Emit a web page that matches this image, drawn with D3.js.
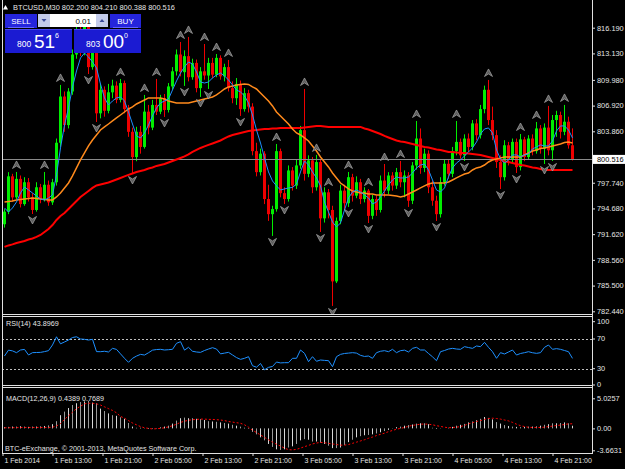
<!DOCTYPE html>
<html><head><meta charset="utf-8">
<script src="https://cdn.jsdelivr.net/npm/d3@7"></script>
<style>html,body{margin:0;padding:0;background:#000;overflow:hidden}</style>
</head><body>
<script>
// ---------- DATA ----------
const opens=[792.8,794.3,798.5,796.0,798.2,795.2,797.8,796.0,794.5,797.2,
795.8,797.5,795.4,797.8,802.5,808.0,804.6,808.6,813.0,815.8,
813.5,816.5,811.5,814.8,806.0,808.8,806.3,808.5,809.3,807.6,
809.6,806.5,803.8,800.8,803.8,802.0,806.2,804.3,807.0,806.2,
807.8,806.4,809.2,811.0,813.0,810.9,812.8,810.3,812.0,809.0,
811.0,810.5,812.0,810.6,812.6,810.4,811.5,809.0,807.8,809.5,
806.5,808.4,806.8,801.5,799.0,801.2,795.8,794.0,794.6,801.5,
796.5,795.8,799.2,797.4,799.8,804.0,798.8,800.4,797.2,800.2,
793.5,796.6,794.5,786.0,793.2,796.8,795.3,798.4,796.2,797.8,
795.8,796.8,793.8,795.8,794.5,798.0,796.8,798.6,797.4,799.0,
797.8,798.6,795.6,799.8,803.0,799.5,801.2,797.2,795.6,794.0,
797.8,800.0,798.8,801.5,802.6,801.0,803.0,802.0,804.8,803.4,
806.5,808.8,805.2,803.4,800.2,798.4,802.2,800.5,802.6,799.6,
802.9,800.8,803.0,801.5,804.2,801.8,804.3,801.6,805.2,805.8,
803.8,805.0,802.2];
const highs=[794.6,799.0,798.8,799.02,798.6,798.4,798.3,796.5,797.8,797.6,
799.02,798.0,798.2,803.0,809.38,808.6,809.0,813.6,816.8,816.5,
817.2,817.0,815.6,815.2,809.5,809.2,809.5,810.0,809.8,810.09,
809.9,807.0,804.3,804.4,804.5,808.19,807.0,807.6,810.09,808.2,
808.3,809.6,811.5,813.6,814.49,813.5,815.09,812.5,812.4,811.5,
814.25,812.6,812.6,813.06,812.9,811.9,812.35,809.8,810.2,809.9,
809.0,808.8,807.2,802.5,801.8,801.5,797.5,795.0,802.35,801.8,
797.2,799.8,799.6,800.5,804.5,808.9,801.0,800.8,801.05,800.5,
797.2,796.99,795.0,793.6,797.5,797.5,799.02,798.8,798.5,798.2,
797.2,796.99,796.3,796.2,798.6,799.97,799.0,799.0,799.5,800.33,
799.2,799.0,800.2,805.09,804.2,801.8,801.6,798.0,796.2,798.4,
800.5,800.5,802.0,805.09,803.0,803.5,803.6,805.2,805.3,807.0,
809.3,809.97,806.8,804.0,801.0,802.8,802.6,803.0,803.0,803.54,
803.2,803.4,803.5,804.97,804.6,804.8,806.88,805.8,806.3,806.2,
807.0,805.6,804.21];
const lows=[792.4,794.0,795.5,795.8,794.8,795.0,795.5,794.02,794.3,795.3,
795.5,795.0,795.1,797.4,802.0,803.8,804.2,808.2,812.5,812.8,
812.9,810.68,811.2,804.97,805.4,805.6,806.0,807.8,807.2,807.3,
806.0,803.2,798.78,800.3,801.2,801.8,803.5,804.0,805.8,805.9,
805.57,806.1,808.8,810.5,810.4,809.26,809.8,810.0,808.5,807.95,
810.0,808.9,810.2,810.3,810.0,809.8,808.6,807.2,807.0,805.69,
806.2,806.1,801.0,798.5,798.6,795.2,793.2,791.41,794.3,796.0,
795.21,795.5,796.8,797.0,799.4,798.0,798.4,796.5,796.8,791.88,
793.0,793.5,783.08,785.8,792.8,794.5,794.86,795.5,795.9,795.2,
795.4,792.95,793.4,793.8,794.2,796.0,796.4,796.8,797.0,797.2,
796.0,794.86,795.2,799.3,798.8,799.0,796.5,795.0,793.19,793.6,
797.4,798.2,798.4,801.0,800.6,800.33,801.4,801.6,802.8,803.0,
806.0,804.6,802.8,799.5,796.99,798.0,799.8,800.1,798.9,799.2,
800.3,800.5,801.0,801.2,801.2,799.97,801.0,800.33,803.2,803.0,
803.4,801.8,800.388];
const closes=[794.3,798.5,796.0,798.2,795.2,797.8,796.0,794.5,797.2,795.8,
797.5,795.4,797.8,802.5,808.0,804.6,808.6,813.0,815.8,813.5,
816.5,811.5,814.8,806.0,808.8,806.3,808.5,809.3,807.6,809.6,
806.5,803.8,800.8,803.8,802.0,806.2,804.3,807.0,806.2,807.8,
806.4,809.2,811.0,813.0,810.9,812.8,810.3,812.0,809.0,811.0,
810.5,812.0,810.6,812.6,810.4,811.5,809.0,807.8,809.5,806.5,
808.4,806.8,801.5,799.0,801.2,795.8,794.0,794.6,801.5,796.5,
795.8,799.2,797.4,799.8,804.0,798.8,800.4,797.2,800.2,793.5,
796.6,794.5,786.0,793.2,796.8,795.3,798.4,796.2,797.8,795.8,
796.8,793.8,795.8,794.5,798.0,796.8,798.6,797.4,799.0,797.8,
798.6,795.6,799.8,803.0,799.5,801.2,797.2,795.6,794.0,797.8,
800.0,798.8,801.5,802.6,801.0,803.0,802.0,804.8,803.4,806.5,
808.8,805.2,803.4,800.2,798.4,802.2,800.5,802.6,799.6,802.9,
800.8,803.0,801.5,804.2,801.8,804.3,801.6,805.2,805.8,803.8,
805.0,802.2,800.516];
const maFast=[794.74,794.26,794.74,795.45,796.52,797.24,796.88,796.52,796.17,795.81,
795.69,795.93,796.29,798.67,801.88,804.61,806.64,809.14,811.04,812.59,
813.18,812.71,812.11,811.40,809.49,807.83,806.99,807.47,807.83,807.95,
807.47,806.16,804.73,803.31,803.07,803.66,804.61,805.69,806.64,807.23,
807.47,807.71,808.78,809.85,810.80,811.52,812.11,811.87,810.92,809.73,
809.61,809.73,810.21,810.56,810.80,810.45,809.97,809.38,808.78,808.54,
808.07,807.23,805.80,804.02,802.47,800.69,799.02,797.95,797.36,796.88,
797.00,797.12,797.18,797.59,799.02,800.33,799.85,799.02,798.31,797.36,
795.45,794.26,793.07,792.48,792.95,794.50,795.93,796.64,796.88,796.64,
796.29,795.93,795.21,795.45,796.05,796.76,797.48,798.07,798.43,798.31,
798.31,798.43,798.90,799.50,799.85,799.97,799.26,798.07,796.88,796.64,
797.12,798.43,799.50,800.09,800.45,800.93,801.40,801.88,802.59,803.54,
804.14,804.26,803.66,801.64,800.57,800.09,800.45,801.05,801.05,800.81,
801.05,801.17,801.76,802.00,802.24,802.12,802.12,802.71,803.90,804.50,
804.50,804.02,803.07];
const maMid=[795.45,795.51,795.57,795.69,795.75,795.81,795.87,795.93,795.87,795.81,
795.75,795.69,795.69,796.05,796.52,797.12,797.71,798.55,799.50,800.45,
801.28,802.12,802.83,803.42,804.02,804.38,804.73,805.09,805.45,805.80,
806.16,806.52,806.76,807.11,807.35,807.59,807.83,807.83,807.83,807.83,
807.71,807.47,807.35,807.23,807.23,807.23,807.23,807.35,807.47,807.59,
807.71,807.83,807.95,808.19,808.54,808.90,809.14,809.26,809.38,809.44,
809.49,809.44,809.14,808.90,808.42,807.95,807.47,806.88,806.16,805.69,
805.21,804.73,804.14,803.66,803.42,803.07,802.71,802.12,801.52,800.81,
800.21,799.62,798.90,798.31,797.71,797.36,797.00,796.76,796.64,796.52,
796.52,796.40,796.40,796.29,796.29,796.29,796.29,796.23,796.17,796.05,
796.17,796.40,796.64,796.88,797.12,797.36,797.59,797.71,797.71,797.71,
797.71,797.83,798.07,798.31,798.55,798.78,798.90,799.26,799.50,799.62,
799.85,800.21,800.45,800.57,800.69,800.81,800.81,800.81,800.81,800.81,
801.05,801.28,801.52,801.64,801.82,801.88,801.99,802.12,802.24,802.35,
802.53,802.59,802.47];
const maSlow=[790.10,790.28,790.40,790.57,790.69,790.81,790.99,791.11,791.29,791.52,
791.88,792.24,792.71,793.31,793.79,794.14,794.62,795.09,795.57,796.05,
796.40,796.76,797.12,797.41,797.53,797.65,797.77,797.95,798.13,798.31,
798.49,798.67,798.84,799.02,799.14,799.26,799.44,799.56,799.74,799.85,
799.97,800.15,800.33,800.51,800.69,800.87,801.11,801.40,801.64,801.88,
802.06,802.24,802.41,802.59,802.77,803.01,803.25,803.42,803.54,803.66,
803.78,803.90,803.96,804.02,804.08,804.14,804.14,804.20,804.20,804.26,
804.26,804.26,804.26,804.26,804.26,804.32,804.38,804.44,804.50,804.50,
804.44,804.38,804.38,804.38,804.38,804.38,804.38,804.38,804.38,804.38,
804.20,804.08,803.90,803.72,803.54,803.31,803.13,802.95,802.77,802.65,
802.59,802.47,802.35,802.24,802.12,802.00,801.94,801.82,801.70,801.64,
801.52,801.40,801.40,801.34,801.28,801.28,801.22,801.16,801.10,801.05,
800.93,800.81,800.69,800.57,800.45,800.27,800.21,800.09,799.97,799.85,
799.79,799.68,799.56,799.50,799.38,799.26,799.26,799.26,799.26,799.26,
799.26,799.26,799.26];
const fractalUp=[3,10,14,29,35,38,44,46,50,53,56,68,75,78,81,86,91,95,99,103,113,121,129,133,136,140];
const fractalDown=[7,21,23,32,40,45,49,51,59,67,70,79,82,86,91,101,108,115,124,128,135,137];
const rsi=[47.1,55,54,51.6,55.2,56,48.5,51.6,51.8,52,
53,54.3,62,73,63.5,66,68.6,72,73,70,
69.6,68.6,69.6,53,52.9,53.5,52.5,57.4,56,50,
44,38.6,44,47,49.3,48.4,51.5,55,55.8,56.1,
55.2,55.6,56.1,64.2,66.4,55,58.8,53.5,52.5,52,
54.5,56.5,58.3,56.5,50,51,52,48.5,45,42.6,
44,46.2,34,32,37,28.5,31.8,33,39,37.8,
38.1,38.1,44,44,55.2,50.7,39.5,46.2,40,41.7,
41.2,40.8,32.7,46.2,49.3,50.5,51,51.6,51,48,
46.5,47.1,44,51.6,53.5,54.3,52.9,56.1,51.6,54.3,
55,52.5,57.4,58.8,55.2,55.2,50.5,46,40.8,52.9,
54.5,56.5,57.4,56.5,56.1,59.7,58.5,57.4,60.6,59.7,
65.5,58.8,52.9,44,51.6,49.8,52.5,55.2,48.4,50.5,
51.6,52.9,51.5,50.7,51.6,58.8,61.9,56.1,57,56.1,
54.5,52.9,43.9];
const macdHist=[0.2,0.25,0.3,0.3,0.35,0.3,0.25,0.3,0.3,0.35,
0.4,0.5,0.7,1.2,2.2,2.8,3.4,3.9,4.2,4.4,
4.5,4.6,4.3,4.2,3.3,2.9,2.5,2.2,2.1,1.85,
1.6,0.9,0.3,0.1,0.1,-0.05,-0.1,-0.1,0.05,0.2,
0.3,0.45,0.8,1.3,1.7,1.8,1.7,1.7,1.6,1.55,
1.4,1.2,1.15,1.1,1.0,0.9,0.8,0.6,0.45,0.3,
0.1,-0.1,-0.55,-1.0,-1.5,-2.0,-2.6,-3.1,-3.5,-3.6,
-3.5,-3.2,-3.0,-2.6,-2.0,-1.8,-1.9,-2.2,-2.2,-2.4,
-2.6,-2.9,-3.3,-3.3,-3.2,-2.8,-2.3,-1.9,-1.5,-1.3,
-1.15,-1.1,-1.0,-0.85,-0.65,-0.45,-0.25,0.05,0.2,0.3,
0.45,0.55,0.65,0.8,0.85,0.85,0.7,0.1,-0.1,-0.05,
0,0.1,0.25,0.45,0.6,0.75,1.0,1.15,1.35,1.6,
1.9,1.75,1.5,1.05,0.8,0.55,0.4,0.3,0.25,0.2,
0.25,0.3,0.3,0.35,0.45,0.6,0.7,0.85,0.85,0.9,
1.0,0.85,0.44];
const macdSignal=[0.1,0.1,0.12,0.12,0.15,0.15,0.15,0.15,0.15,0.15,
0.15,0.15,0.2,0.4,0.8,1.5,2.1,2.7,3.3,3.7,
4.1,4.2,4.2,4.1,3.9,3.6,3.3,3.0,2.6,2.0,
1.7,1.3,0.9,0.6,0.3,0.1,0,-0.1,-0.05,0,
0.1,0.25,0.45,0.7,1.0,1.2,1.35,1.45,1.5,1.55,
1.55,1.5,1.5,1.45,1.4,1.3,1.15,1.05,0.95,0.85,
0.6,0.2,-0.3,-0.7,-1.1,-1.5,-1.9,-2.3,-2.65,-2.95,
-3.3,-3.55,-3.6,-3.5,-3.3,-3.05,-2.85,-2.6,-2.45,-2.35,
-2.4,-2.5,-2.6,-2.7,-2.8,-2.8,-2.7,-2.5,-2.3,-2.1,
-1.9,-1.65,-1.45,-1.2,-1.0,-0.8,-0.55,-0.35,-0.15,0,
0.15,0.35,0.5,0.6,0.7,0.72,0.7,0.6,0.45,0.33,
0.2,0.1,0.15,0.2,0.3,0.5,0.75,0.95,1.15,1.3,
1.5,1.65,1.7,1.65,1.55,1.4,1.25,1.0,0.7,0.45,
0.3,0.18,0.15,0.15,0.15,0.2,0.3,0.38,0.48,0.55,
0.65,0.75,0.77];
const priceTicks=[816.190,813.130,809.980,806.920,803.860,797.740,794.680,791.620,788.560,785.500,782.440];
const rsiTicks=[100,70,30,0];
const rsiLevels=[70,30];
const macdTicks=[5.0257,0,-3.6631];
const macdTickLabels=["5.0257","0.00","-3.6631"];
const timePos=[-0.5,12,24.5,37,49.5,62,74.5,87,99.5,112,124.5,137];
const timeLabels=["1 Feb 2014","1 Feb 13:00","1 Feb 21:00","2 Feb 05:00","2 Feb 13:00","2 Feb 21:00","3 Feb 05:00","3 Feb 13:00","3 Feb 21:00","4 Feb 05:00","4 Feb 13:00","4 Feb 21:00"];
const header="BTCUSD,M30  802.200 804.210 800.388 800.516";
const lastPrice=800.516;
const rsiLabel="RSI(14) 43.8969";
const macdLabel="MACD(12,26,9) 0.4389 0.7689";
const copyright="BTC-eExchange, © 2001-2013, MetaQuotes Software Corp.";

// ---------- LAYOUT ----------
const W=625,H=469, L=2, R=592;
const MAIN=[0,314], RP=[317,385], MP=[388,453];
const FONT='"Liberation Sans", Arial, sans-serif';
const TXT='#e6e6e6';
const n=closes.length;
const idx=d3.range(n);

const svg=d3.select('body').append('svg').attr('width',W).attr('height',H)
  .style('display','block').style('background','#000');
svg.append('rect').attr('width',W).attr('height',H).attr('fill','#000');

const x=d3.scaleLinear().domain([0,n-1]).range([4,572]);
const yP=d3.scaleLinear().domain([782.44,816.19]).range([311.3,27.7]);
const yR=d3.scaleLinear().domain([30,70]).range([368.7,339]);
const yM=d3.scaleLinear().domain([-3.6631,5.0257]).range([450.3,398.3]);

const defs=svg.append('defs');
function clip(id,y0,y1){defs.append('clipPath').attr('id',id).append('rect').attr('x',L+1).attr('y',y0).attr('width',R-L-1).attr('height',y1-y0);}
clip('cm',MAIN[0],MAIN[1]); clip('cr',RP[0],RP[1]); clip('cd',MP[0],MP[1]);

// ---------- MAIN PANEL ----------
const main=svg.append('g').attr('clip-path','url(#cm)');
const col=i=>closes[i]>=opens[i]?'#00ee00':'#ee0000';
main.append('g').selectAll('line').data(idx).join('line')
  .attr('x1',i=>x(i)+0.5).attr('x2',i=>x(i)+0.5)
  .attr('y1',i=>yP(highs[i])).attr('y2',i=>yP(lows[i]))
  .attr('stroke',col).attr('stroke-width',1);
main.append('g').selectAll('rect').data(idx).join('rect')
  .attr('x',i=>x(i)-1).attr('width',3)
  .attr('y',i=>yP(Math.max(opens[i],closes[i])))
  .attr('height',i=>Math.max(1,Math.abs(yP(opens[i])-yP(closes[i]))))
  .attr('fill',col);

// current price line
main.append('line').attr('x1',L).attr('x2',R).attr('y1',Math.round(yP(lastPrice))+0.5).attr('y2',Math.round(yP(lastPrice))+0.5)
  .attr('stroke','#8a8a8a').attr('stroke-width',1);

const lineP=d3.line().x((d,i)=>x(i)+0.5).y(d=>yP(d));
main.append('path').datum(maSlow).attr('d',lineP).attr('fill','none').attr('stroke','#ff0000').attr('stroke-width',2);
main.append('path').datum(maMid).attr('d',lineP).attr('fill','none').attr('stroke','#ff8a1c').attr('stroke-width',1.5);
main.append('path').datum(maFast).attr('d',lineP).attr('fill','none').attr('stroke','#1e90ff').attr('stroke-width',1);

// fractals
const upArrow='M0,-4L4,3.5L0,1L-4,3.5Z';
const dnArrow='M0,4L4,-3.5L0,-1L-4,-3.5Z';
main.append('g').selectAll('path').data(fractalUp).join('path')
  .attr('d',upArrow).attr('transform',i=>`translate(${x(i)+0.5},${yP(highs[i])-7})`)
  .attr('fill','#5e5e5e').attr('stroke','#a8a8a8').attr('stroke-width',0.7);
main.append('g').selectAll('path').data(fractalDown).join('path')
  .attr('d',dnArrow).attr('transform',i=>`translate(${x(i)+0.5},${yP(lows[i])+6})`)
  .attr('fill','#5e5e5e').attr('stroke','#a8a8a8').attr('stroke-width',0.7);

// ---------- RSI PANEL ----------
const rg=svg.append('g').attr('clip-path','url(#cr)');
rg.selectAll('line.lv').data(rsiLevels).join('line')
  .attr('x1',L).attr('x2',R).attr('y1',d=>Math.round(yR(d))+0.5).attr('y2',d=>Math.round(yR(d))+0.5)
  .attr('stroke','#bdbdbd').attr('stroke-dasharray','2,2');
rg.append('path').datum(rsi).attr('d',d3.line().x((d,i)=>x(i)+0.5).y(d=>yR(d)))
  .attr('fill','none').attr('stroke','#1e90ff').attr('stroke-width',1);

// ---------- MACD PANEL ----------
const mg=svg.append('g').attr('clip-path','url(#cd)');
mg.append('g').selectAll('line').data(idx).join('line')
  .attr('x1',i=>x(i)+0.5).attr('x2',i=>x(i)+0.5)
  .attr('y1',yM(0)).attr('y2',i=>yM(macdHist[i]))
  .attr('stroke',(d,i)=>i%2?'#9a9a9a':'#d8d8d8').attr('stroke-width',1);
mg.append('path').datum(macdSignal).attr('d',d3.line().x((d,i)=>x(i)+0.5).y(d=>yM(d)))
  .attr('fill','none').attr('stroke','#ff0000').attr('stroke-width',1).attr('stroke-dasharray','2,2');

// ---------- FRAME ----------
const fr=svg.append('g').attr('stroke','#e0e0e0').attr('stroke-width',1);
fr.append('line').attr('x1',L+0.5).attr('x2',L+0.5).attr('y1',0).attr('y2',MP[1]);
fr.append('line').attr('x1',R+0.5).attr('x2',R+0.5).attr('y1',0).attr('y2',MP[1]+1);
[[314,316],[385,387]].forEach(p=>p.forEach(y=>fr.append('line').attr('x1',L).attr('x2',R).attr('y1',y+0.5).attr('y2',y+0.5)));

// ---------- AXES ----------
function styleAxis(g){
  g.select('.domain').remove();
  g.selectAll('.tick line').attr('stroke','#e0e0e0');
  g.selectAll('.tick text').attr('fill',TXT).style('font-family',FONT).style('font-size','7.4px');
}
svg.append('g').attr('transform',`translate(${R},0)`)
  .call(d3.axisRight(yP).tickValues(priceTicks).tickSize(3).tickPadding(2).tickFormat(d3.format('.3f')))
  .call(styleAxis);
const rAx=svg.append('g').attr('transform',`translate(${R},0)`)
  .call(d3.axisRight(yR).tickValues(rsiTicks).tickSize(3).tickPadding(2).tickFormat(d3.format('d')))
  .call(styleAxis);
rAx.selectAll('.tick').attr('transform',d=>`translate(0,${Math.min(Math.max(yR(d),RP[0]+4.7),RP[1])})`);
svg.append('g').attr('transform',`translate(${R},0)`)
  .call(d3.axisRight(yM).tickValues(macdTicks).tickSize(3).tickPadding(2).tickFormat((d,i)=>macdTickLabels[i]))
  .call(styleAxis);

// current price tag
const py=yP(lastPrice);
svg.append('rect').attr('x',R+1).attr('y',py-4.5).attr('width',W-R-1).attr('height',9).attr('fill','#ffffff');
svg.append('text').attr('x',R+5).attr('y',py).attr('dy','0.34em').text(d3.format('.3f')(lastPrice))
  .attr('fill','#000').style('font-family',FONT).style('font-size','7.4px');

// time axis
const tAx=svg.append('g').attr('transform',`translate(0,${MP[1]})`)
  .call(d3.axisBottom(x).tickValues(timePos).tickSize(3).tickFormat((d,i)=>timeLabels[i]));
tAx.select('.domain').remove();
tAx.selectAll('.tick line').attr('stroke','#e0e0e0').attr('transform','translate(0.5,0)');
tAx.selectAll('.tick text').attr('fill',TXT).style('font-family',FONT).style('font-size','7px')
  .attr('text-anchor','start').attr('x',2).attr('y',5.5);
svg.append('line').attr('x1',L).attr('x2',R+1).attr('y1',MP[1]+0.5).attr('y2',MP[1]+0.5).attr('stroke','#e0e0e0');

// ---------- TEXTS ----------
const t=(s,xx,yy,size,fill,anchor)=>svg.append('text').attr('x',xx).attr('y',yy).text(s)
  .attr('fill',fill||TXT).attr('text-anchor',anchor||'start').style('font-family',FONT).style('font-size',size+'px');
svg.append('path').attr('d','M3,9.5L5.5,5L8,9.5Z').attr('fill','#fff');
t(header,13,9.8,7.4);
t(rsiLabel,6,326,7.2);
t(macdLabel,6,401,7.2);
t(copyright,5,451,7.2);

// ---------- ONE-CLICK PANEL ----------
const p=svg.append('g');
p.append('rect').attr('x',5).attr('y',14).attr('width',32).attr('height',14).attr('fill','#2525dc');
p.append('line').attr('x1',8).attr('x2',34).attr('y1',27.5).attr('y2',27.5).attr('stroke','#6464ff');
p.append('rect').attr('x',110).attr('y',14).attr('width',31).attr('height',14).attr('fill','#2525dc');
p.append('line').attr('x1',113).attr('x2',138).attr('y1',27.5).attr('y2',27.5).attr('stroke','#6464ff');
p.append('rect').attr('x',38).attr('y',14).attr('width',70).attr('height',13).attr('fill','#ffffff');
p.append('rect').attr('x',38).attr('y',14).attr('width',12).attr('height',13).attr('fill','#c3cbea');
p.append('rect').attr('x',96).attr('y',14).attr('width',12).attr('height',13).attr('fill','#c3cbea');
p.append('path').attr('d','M41.5,19L46.5,19L44,22Z').attr('fill','#3a4a9a');
p.append('path').attr('d','M99.5,22L104.5,22L102,19Z').attr('fill','#3a4a9a');
t('0.01',91,24,8,'#000','end');
t('SELL',21,24,8,'#fff','middle');
t('BUY',125.5,24,8,'#fff','middle');
p.append('rect').attr('x',5).attr('y',29).attr('width',67).attr('height',24).attr('fill','#1b1bd2');
p.append('rect').attr('x',74).attr('y',29).attr('width',67).attr('height',24).attr('fill','#1b1bd2');
p.append('line').attr('x1',5).attr('x2',72).attr('y1',29.5).attr('y2',29.5).attr('stroke','#4646f0');
p.append('line').attr('x1',74).attr('x2',141).attr('y1',29.5).attr('y2',29.5).attr('stroke','#4646f0');
t('800',17,47,8.5,'#fff');
t('51',34,47.5,19,'#fff');
t('6',55,38,7,'#fff');
t('803',86,47,8.5,'#fff');
t('00',103,47.5,19,'#fff');
t('0',124,38,7,'#fff');
</script>
</body></html>
